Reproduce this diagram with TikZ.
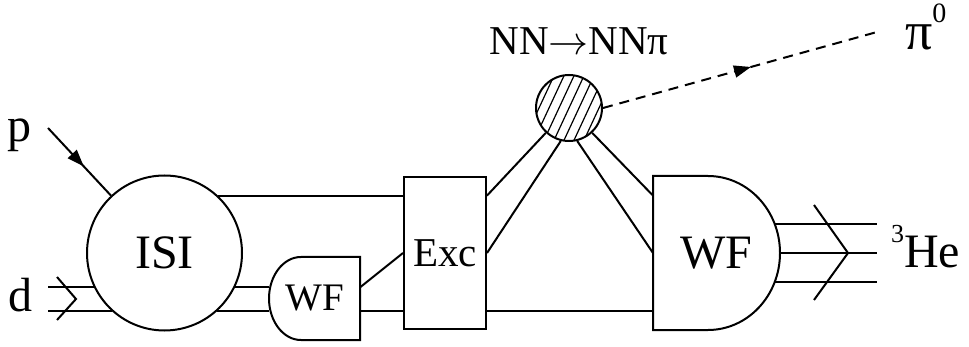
\documentclass[tikz,border=0pt]{standalone}
\usepackage{graphicx}
\usepackage{fontspec}
\setmainfont{Liberation Serif}
\usetikzlibrary{arrows.meta, calc, decorations.markings}

\begin{document}
\begin{tikzpicture}[
x=1pt, y=-1pt,
line width=2pt,
bigtxt/.style={font=\fontsize{48}{52}\selectfont},
midtxt/.style={font=\fontsize{41}{44}\selectfont},
blob/.style={circle, draw, inner sep=0pt},
excbox/.style={rectangle, draw, minimum width=82pt, minimum height=152pt, midtxt},
wfarea/.style={rectangle, inner sep=0pt, outer sep=0pt},
dashline/.style={dash pattern=on 10pt off 7pt},
midarrow/.style={postaction={decorate}, decoration={markings,
  mark=at position #1 with {\arrow{Triangle[length=17pt,width=12pt]}}}}
]
\useasboundingbox (0,0) rectangle (969,347);

% blobs and boxes
\node[blob, minimum size=155pt, bigtxt] (isi) at (164.5,253) {ISI};
\node[excbox] (exc) at (445,253) {Exc};
\node[blob, minimum size=66pt, path picture={
  \foreach \k in {-4,...,4}
    \draw[line width=1.2pt] ($(path picture bounding box.center)+({\k*10-20},43)$) -- ++(40,-86);
}] (nnpi) at (569,108) {};

% wave functions
\node[wfarea, minimum width=91pt, minimum height=83pt, font=\fontsize{39}{42}\selectfont] (wfs) at (314.5,298.5) {WF};
\draw (wfs.north east) -- (wfs.south east) -- ++(-59,0)
  arc[start angle=90, end angle=270, x radius=32, y radius=41.5] -- cycle;
\node[wfarea, minimum width=127pt, minimum height=154pt, bigtxt] (wfb) at (716.5,253) {WF};
\draw (wfb.south west) -- (wfb.north west) -- ++(55,0)
  arc[start angle=270, end angle=450, x radius=72, y radius=77] -- cycle;

% internal lines
\draw (isi.47) -- (isi.47 -| exc.west);
\draw (isi.334) -- (isi.334 -| wfs.west);
\draw (isi.312) -- (isi.312 -| wfs.west);
\draw (wfs.east |- isi.334) -- (exc.west);
\draw (wfs.east |- isi.312) -- (exc.west |- isi.312);
\draw (exc.east |- isi.47) -- (nnpi.227);
\draw (exc.east) -- (nnpi.256);
\draw (nnpi.313) -- (wfb.west |- isi.47);
\draw (nnpi.284) -- (wfb.west);
\draw (exc.east |- isi.312) -- (wfb.west |- isi.312);

% incoming legs
\coordinate (pfrom) at (48,128);
\draw[midarrow=0.57] (pfrom) -- (isi.133);
\coordinate (dtip) at (76,299);
\draw (isi.206) -- (isi.206 -| pfrom);
\draw (isi.228) -- (isi.228 -| pfrom);
\draw ($(dtip)+(-19,-22)$) -- (dtip) -- ++(-19,21);

% outgoing legs
\coordinate (hetip) at (848,253);
\foreach \dy/\dx in {-29/5, 0/0, 29/5}
  \draw ($(wfb.east)+({-\dx},\dy)$) -- ($(hetip)+(29,\dy)$);
\draw ($(hetip)+(-34,-48)$) -- (hetip) -- ++(-34,47);
\coordinate (pito) at (877,32);
\draw[dashline, midarrow=0.54] (nnpi.east) -- (pito);

% labels
\node[bigtxt, anchor=base] (plbl) at (20,142) {p};
\node[bigtxt, anchor=base] (dlbl) at (21,312) {d};
\node[midtxt, anchor=base] (nnlbl) at (579,55) {NN\resizebox{40pt}{!}{$\rightarrow$}NNπ};
\node[font=\fontsize{54}{56}\selectfont, anchor=base west, inner sep=0pt] (pilbl) at (904,50) {π\raisebox{27pt}{\fontsize{28}{28}\selectfont 0}};
\node[bigtxt, anchor=base west, inner sep=0pt] (helbl) at (890,268) {\raisebox{25pt}{\fontsize{26}{26}\selectfont 3}He};

\end{tikzpicture}
\end{document}
